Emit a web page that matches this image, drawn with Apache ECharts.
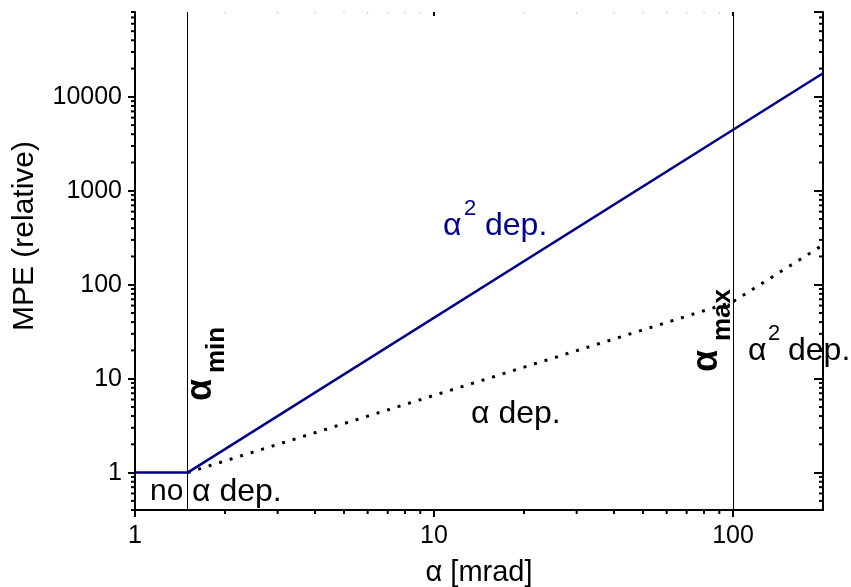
<!DOCTYPE html>
<html>
<head>
<meta charset="utf-8">
<script src="https://cdn.jsdelivr.net/npm/echarts@6/dist/echarts.min.js"></script>
<style>
  html, body { margin: 0; padding: 0; background: #fff; }
  #chart { width: 851px; height: 587px; }
</style>
</head>
<body>
<div id="chart"></div>
<script>
// axis ranges
const xRange = [1, 200];
const yRange = [0.4, 80000];

// MPE curves
const limitX = [1, 1.5, 200];
const limitY = [1, 1, 17800];
const dottedX = [1.5, 100, 200];
const dottedY = [1, 66, 265];

// alpha_min / alpha_max markers
const markerX = [1.5, 100];

// minor tick values (log decades)
const xMinor = [2, 3, 4, 5, 6, 7, 8, 9, 20, 30, 40, 50, 60, 70, 80, 90];
const yMinor = [0.4, 0.5, 0.6, 0.7, 0.8, 0.9,
  2, 3, 4, 5, 6, 7, 8, 9,
  20, 30, 40, 50, 60, 70, 80, 90,
  200, 300, 400, 500, 600, 700, 800, 900,
  2000, 3000, 4000, 5000, 6000, 7000, 8000, 9000,
  20000, 30000, 40000, 50000, 60000, 70000, 80000];

const FONT = '"Liberation Sans", Arial, sans-serif';
const BLUE = '#00008b';

const chart = echarts.init(document.getElementById('chart'));

const isDecade = v => Math.abs(Math.log10(v) - Math.round(Math.log10(v))) < 1e-6;
const zip = (a, b) => a.map((v, i) => [v, b[i]]);

// minor ticks drawn through the axes' own scales
function tickSeries(data, dx, dy, color, width) {
  return {
    type: 'custom',
    silent: true,
    clip: false,
    z: 5,
    data: data,
    renderItem: (params, api) => {
      const p = api.coord([api.value(0), api.value(1)]);
      return {
        type: 'line',
        shape: { x1: p[0], y1: p[1], x2: p[0] + dx, y2: p[1] + dy },
        style: { stroke: color, lineWidth: width }
      };
    }
  };
}

function txt(x, y, text, size, opts) {
  return Object.assign({
    type: 'text', x: x, y: y, silent: true, z: 10,
    style: Object.assign({
      text: text, fontSize: size, fontFamily: FONT, fill: '#000',
      align: 'left', verticalAlign: 'middle'
    }, (opts && opts.style) || {})
  }, opts && opts.rotation ? { rotation: opts.rotation } : {});
}

const axisBase = {
  type: 'log',
  logBase: 10,
  splitLine: { show: false },
  axisLine: { show: true, lineStyle: { color: '#000', width: 2 } },
  axisTick: { show: true, length: 7, lineStyle: { color: '#000', width: 2 } }
};

const option = {
  backgroundColor: '#fff',
  animation: false,
  grid: { left: 135, right: 28, top: 12, bottom: 77, outerBoundsMode: 'none' },
  xAxis: [
    Object.assign({}, axisBase, {
      min: xRange[0], max: xRange[1], position: 'bottom',
      name: 'α [mrad]', nameLocation: 'middle', nameGap: 48,
      nameTextStyle: { fontSize: 29, fontFamily: FONT, color: '#000' },
      axisLabel: {
        fontSize: 25, fontFamily: FONT, color: '#000', margin: 14,
        showMaxLabel: false,
        formatter: v => (isDecade(v) ? String(Math.round(v)) : '')
      }
    }),
    Object.assign({}, axisBase, {
      min: xRange[0], max: xRange[1], position: 'top',
      axisLine: { show: false },
      axisTick: { show: true, inside: true, length: 4, lineStyle: { color: '#000', width: 2 } },
      axisLabel: { show: false }
    })
  ],
  yAxis: [
    Object.assign({}, axisBase, {
      min: yRange[0], max: yRange[1], position: 'left',
      axisLabel: {
        fontSize: 25, fontFamily: FONT, color: '#000', margin: 13,
        showMinLabel: false, showMaxLabel: false,
        formatter: v => (isDecade(v) ? String(Math.round(v)) : '')
      }
    }),
    Object.assign({}, axisBase, {
      min: yRange[0], max: yRange[1], position: 'right',
      axisTick: { show: true, inside: true, length: 9, lineStyle: { color: '#000', width: 2 } },
      axisLabel: { show: false }
    })
  ],
  series: [
    {
      name: 'alpha2',
      type: 'line',
      data: zip(limitX, limitY),
      symbol: 'none',
      lineStyle: { color: BLUE, width: 2.5 },
      z: 4,
      markLine: {
        silent: true,
        symbol: 'none',
        label: { show: false },
        lineStyle: { color: '#000', width: 1, type: 'solid' },
        data: markerX.map(v => ({ xAxis: v }))
      }
    },
    {
      name: 'dotted',
      type: 'line',
      data: zip(dottedX, dottedY),
      symbol: 'none',
      lineStyle: { color: '#000', width: 3, type: [3, 8] },
      z: 3
    },
    tickSeries(xMinor.map(v => [v, yRange[0]]), 0, 4, '#000', 2),
    tickSeries(xMinor.map(v => [v, yRange[1]]), 0, 1.5, '#bbb', 1),
    tickSeries(yMinor.map(v => [xRange[0], v]), -4, 0, '#000', 2),
    tickSeries(yMinor.map(v => [xRange[1], v]), -4, 0, '#000', 2)
  ],
  graphic: [
    // y axis title
    txt(25, 236, 'MPE (relative)', 30, { rotation: Math.PI / 2, style: { align: 'center' } }),
    // blue alpha^2 dep.
    txt(443, 226, 'α', 32, { style: { fill: BLUE } }),
    txt(464, 209, '2', 22, { style: { fill: BLUE } }),
    txt(485, 226, 'dep.', 32, { style: { fill: BLUE } }),
    // alpha dep.
    txt(471, 414, 'α dep.', 32),
    // no alpha dep.
    txt(150, 492, 'no', 30),
    txt(192, 492, 'α dep.', 32),
    // alpha^2 dep. right of alpha_max
    txt(748, 351, 'α', 32),
    txt(768, 334, '2', 22),
    txt(788, 351, 'dep.', 32),
    // alpha_min (rotated)
    txt(201, 401, 'α', 36, { rotation: Math.PI / 2, style: { fontWeight: 'bold' } }),
    txt(217, 373, 'min', 26, { rotation: Math.PI / 2, style: { fontWeight: 'bold' } }),
    // alpha_max (rotated)
    txt(707, 372, 'α', 36, { rotation: Math.PI / 2, style: { fontWeight: 'bold' } }),
    txt(723, 341, 'max', 26, { rotation: Math.PI / 2, style: { fontWeight: 'bold' } })
  ]
};

chart.setOption(option);
</script>
</body>
</html>
